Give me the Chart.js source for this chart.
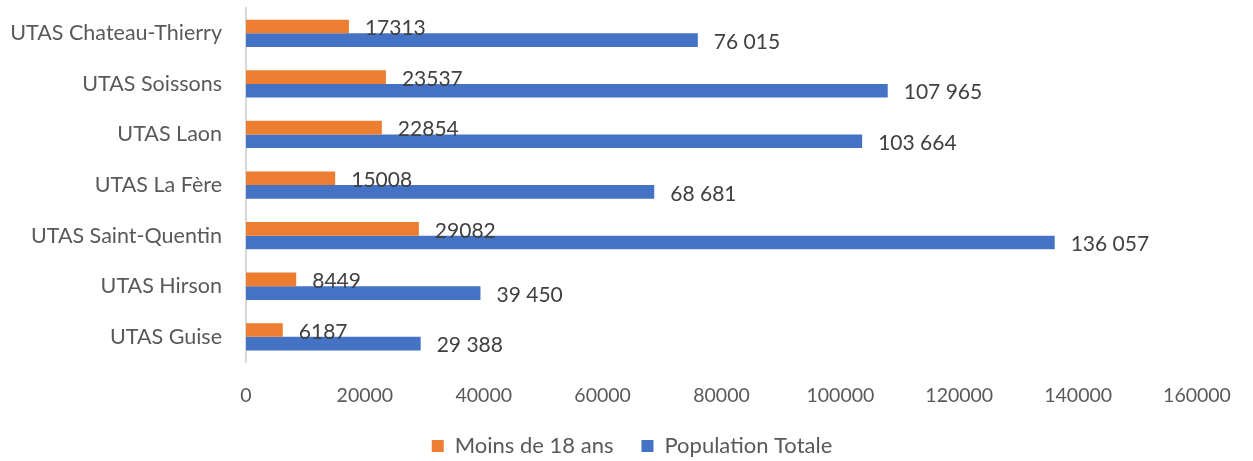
<!DOCTYPE html>
<html>
<head>
<meta charset="utf-8">
<script src="https://cdn.jsdelivr.net/npm/chart.js@4/dist/chart.umd.min.js"></script>
<style>
  html, body { margin: 0; padding: 0; background: #fff; }
  #wrap { width: 1253px; height: 461px; }
</style>
</head>
<body>
<div id="wrap"><canvas id="utasChart"></canvas></div>
<script>
// Données
const categories = ['UTAS Chateau-Thierry', 'UTAS Soissons', 'UTAS Laon', 'UTAS La Fère',
                    'UTAS Saint-Quentin', 'UTAS Hirson', 'UTAS Guise'];
const moins18 = [17313, 23537, 22854, 15008, 29082, 8449, 6187];
const populationTotale = [76015, 107965, 103664, 68681, 136057, 39450, 29388];
const xTicks = [0, 20000, 40000, 60000, 80000, 100000, 120000, 140000, 160000];

const FONT = 'Lato, "Open Sans", sans-serif';

// espace comme séparateur de milliers (format Excel de la série bleue)
function withSpaces(n) {
    return n.toString().replace(/\B(?=(\d{3})+(?!\d))/g, ' ');
}

// Étiquettes de données au bout des barres
const barLabels = {
    id: 'barLabels',
    afterDatasetsDraw(chart) {
        const ctx = chart.ctx;
        ctx.save();
        ctx.font = '21px ' + FONT;
        ctx.fillStyle = '#404040';
        ctx.textAlign = 'left';
        ctx.textBaseline = 'middle';
        chart.data.datasets.forEach((ds, i) => {
            chart.getDatasetMeta(i).data.forEach((bar, j) => {
                const v = ds.data[j];
                const txt = i === 0 ? String(v) : withSpaces(v);
                ctx.fillText(txt, bar.x + 16, bar.y + 2);
            });
        });
        ctx.restore();
    }
};

new Chart(document.getElementById('utasChart'), {
    type: 'bar',
    data: {
        labels: categories,
        datasets: [{
            label: 'Moins de 18 ans',
            data: moins18,
            backgroundColor: '#ED7D31',
            borderWidth: 0
        }, {
            label: 'Population Totale',
            data: populationTotale,
            backgroundColor: '#4472C4',
            borderWidth: 0
        }]
    },
    options: {
        indexAxis: 'y',
        responsive: true,
        maintainAspectRatio: false,
        animation: false,
        categoryPercentage: 0.54,
        barPercentage: 1.0,
        layout: { padding: { left: 11, right: 0, top: 8, bottom: -6 } },
        scales: {
            x: {
                min: 0,
                max: 160000,
                afterBuildTicks: axis => { axis.ticks = xTicks.map(v => ({ value: v })); },
                afterFit: axis => {
                    axis.paddingLeft = 0;
                    axis.paddingRight = 56;
                    axis.height -= axis.options.ticks.padding;
                },
                grid: { display: false, drawTicks: false },
                border: { display: false },
                ticks: {
                    color: '#595959',
                    font: { family: FONT, size: 19.5 },
                    padding: 21.5,
                    maxRotation: 0,
                    callback: v => String(v)
                }
            },
            y: {
                afterFit: axis => {
                    axis.width = 235;
                    axis.paddingTop = 0;
                    axis.paddingBottom = 0;
                },
                grid: { display: false, drawTicks: false },
                border: { display: true, color: '#D9D9D9', width: 2 },
                ticks: {
                    color: '#595959',
                    font: { family: FONT, size: 21.5 },
                    padding: 24
                }
            }
        },
        plugins: {
            legend: {
                position: 'bottom',
                labels: {
                    color: '#595959',
                    font: { family: FONT, size: 22 },
                    boxWidth: 12,
                    boxHeight: 12,
                    padding: 28
                }
            },
            tooltip: { enabled: false }
        }
    },
    plugins: [barLabels]
});
</script>
</body>
</html>
